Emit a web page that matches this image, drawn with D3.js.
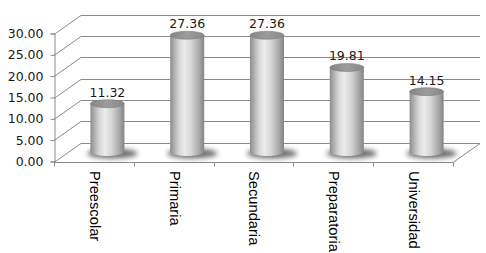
<!DOCTYPE html>
<html>
<head>
<meta charset="utf-8">
<script src="https://cdn.jsdelivr.net/npm/d3@7"></script>
<style>
  body { margin: 0; background: #fff; }
  svg { display: block; }
</style>
</head>
<body>
<div id="chart"></div>
<script>
const categories = ["Preescolar", "Primaria", "Secundaria", "Preparatoria", "Universidad"];
const values = [11.32, 27.36, 27.36, 19.81, 14.15];
const yTicks = [0, 5, 10, 15, 20, 25, 30];

const width = 486, height = 253;
const depth = { dx: 27, dy: -19 };

const svg = d3.select("#chart")
    .append("svg")
    .attr("width", width)
    .attr("height", height);

const defs = svg.append("defs");

const grad = defs.append("linearGradient")
    .attr("id", "cyl")
    .attr("x1", "0%").attr("x2", "100%")
    .attr("y1", "0%").attr("y2", "0%");
[[0, "#8c8c8c"], [0.25, "#d4d4d4"], [0.42, "#ececec"], [0.62, "#d6d6d6"], [0.85, "#a8a8a8"], [1, "#848484"]]
    .forEach(s => grad.append("stop").attr("offset", s[0]).attr("stop-color", s[1]));

const topGrad = defs.append("linearGradient")
    .attr("id", "cyltop")
    .attr("x1", "0%").attr("x2", "100%");
[[0, "#858585"], [0.5, "#9c9c9c"], [1, "#888"]]
    .forEach(s => topGrad.append("stop").attr("offset", s[0]).attr("stop-color", s[1]));

defs.append("filter")
    .attr("id", "blur")
    .attr("x", "-50%").attr("y", "-100%")
    .attr("width", "200%").attr("height", "300%")
    .append("feGaussianBlur")
    .attr("stdDeviation", 2.4);

const x = d3.scaleBand()
    .domain(categories)
    .range([54, 453]);

const y = d3.scaleLinear()
    .domain([0, 30])
    .range([161.5, 33.5]);

const gridColor = "#8a8a8a";
const grid = svg.append("g")
    .attr("stroke", gridColor)
    .attr("stroke-width", 1)
    .attr("fill", "none");

// back wall lines + diagonal to front axis
yTicks.forEach(t => {
    const yy = Math.round(y(t)) + 0.5;
    grid.append("line")
        .attr("x1", 54).attr("y1", yy)
        .attr("x2", 54 + depth.dx).attr("y2", yy + depth.dy);
    grid.append("line")
        .attr("x1", 54 + depth.dx).attr("y1", yy + depth.dy)
        .attr("x2", 453 + depth.dx).attr("y2", yy + depth.dy);
});

// floor right edge
grid.append("line")
    .attr("x1", 453).attr("y1", Math.round(y(0)) + 0.5)
    .attr("x2", 453 + depth.dx).attr("y2", Math.round(y(0)) + 0.5 + depth.dy);

// front axes
const yAxisGroup = svg.append("g")
    .attr("transform", "translate(54.5,0)")
    .call(d3.axisLeft(y).tickValues(yTicks).tickSize(4).tickFormat(d3.format(".2f")));
yAxisGroup.select(".domain").attr("stroke", gridColor);
yAxisGroup.selectAll(".tick line").attr("stroke", gridColor);
yAxisGroup.selectAll("text")
    .attr("x", -11)
    .style("font-family", "DejaVu Sans")
    .style("font-size", "12.5px")
    .attr("fill", "#1a1a1a");

const xAxisGroup = svg.append("g")
    .attr("transform", `translate(0, ${Math.round(y(0)) + 0.5})`);
xAxisGroup.append("line")
    .attr("x1", 54).attr("x2", 453)
    .attr("stroke", gridColor);
xAxisGroup.selectAll(".xt")
    .data(d3.range(categories.length + 1))
    .enter()
    .append("line")
    .attr("x1", i => Math.round(54 + i * x.bandwidth()) + 0.5)
    .attr("x2", i => Math.round(54 + i * x.bandwidth()) + 0.5)
    .attr("y1", 0).attr("y2", 4)
    .attr("stroke", gridColor);

svg.append("g")
    .selectAll("text")
    .data(categories)
    .enter()
    .append("text")
    .attr("transform", d => `translate(${x(d) + x.bandwidth() / 2 + 1}, 171) rotate(90)`)
    .attr("dy", "0.35em")
    .style("font-family", "Liberation Sans, Arial, sans-serif")
    .style("font-size", "14.7px")
    .attr("fill", "#000")
    .text(d => d);

// cylinders at mid depth
const cw = 34, rx = cw / 2, ry = 4;
const mid = { dx: depth.dx / 2, dy: depth.dy / 2 };
const data = categories.map((c, i) => ({ name: c, value: values[i] }));

const bars = svg.append("g")
    .selectAll("g")
    .data(data)
    .enter()
    .append("g")
    .attr("transform", d => `translate(${x(d.name) + x.bandwidth() / 2 + mid.dx}, ${mid.dy})`);

bars.append("ellipse")
    .attr("cx", 5)
    .attr("cy", y(0) + 1.5)
    .attr("rx", 25)
    .attr("ry", 5)
    .attr("fill", "#4a4a4a")
    .attr("opacity", 0.8)
    .attr("filter", "url(#blur)");

bars.append("ellipse")
    .attr("cx", 0)
    .attr("cy", y(0))
    .attr("rx", rx)
    .attr("ry", ry)
    .attr("fill", "url(#cyl)");

bars.append("rect")
    .attr("x", -rx)
    .attr("y", d => y(d.value))
    .attr("width", cw)
    .attr("height", d => y(0) - y(d.value))
    .attr("fill", "url(#cyl)");

bars.append("ellipse")
    .attr("cx", 0)
    .attr("cy", d => y(d.value))
    .attr("rx", rx)
    .attr("ry", ry)
    .attr("fill", "url(#cyltop)")
    .attr("stroke", "#7e7e7e")
    .attr("stroke-width", 0.6);

bars.append("text")
    .attr("x", 0)
    .attr("y", d => y(d.value) - 7)
    .attr("text-anchor", "middle")
    .style("font-family", "DejaVu Sans")
    .style("font-size", "12.5px")
    .attr("fill", "#1a1a1a")
    .text(d => d.value.toFixed(2));
</script>
</body>
</html>
